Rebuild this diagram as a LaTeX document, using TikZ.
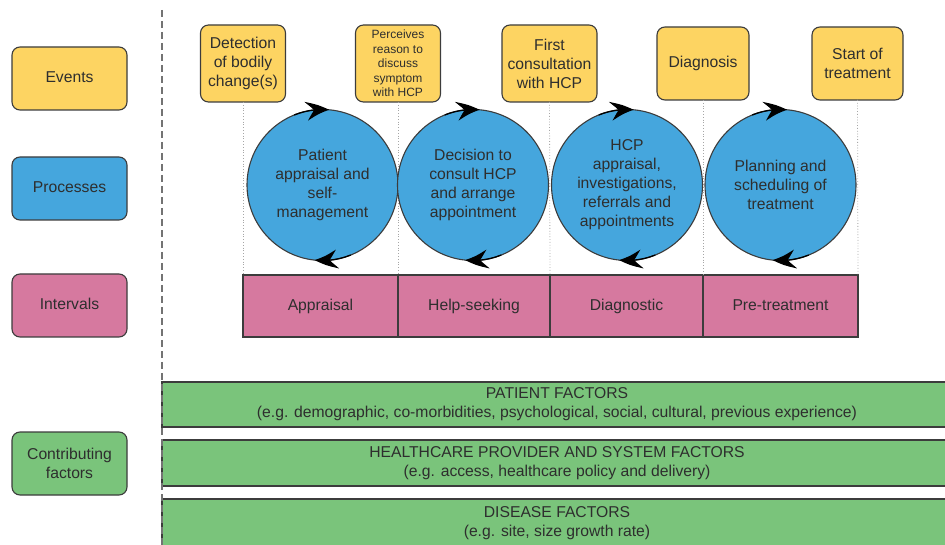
\documentclass[tikz,border=0pt]{standalone}
\usepackage{fontspec}
\setmainfont{Liberation Sans}
\usetikzlibrary{arrows.meta,bending}
\definecolor{evfill}{HTML}{FDD462}
\definecolor{prfill}{HTML}{45A6DD}
\definecolor{infill}{HTML}{D6799F}
\definecolor{cffill}{HTML}{7AC47B}
\definecolor{edge}{HTML}{3C3C3C}
\definecolor{ink}{HTML}{2E2E2E}
\begin{document}
\begin{tikzpicture}[x=1pt,y=1pt,
  base/.style={draw=edge, line width=1.1pt, text=ink, align=center, inner sep=0pt, outer sep=0pt,
    font=\fontsize{15.7}{19}\selectfont},
  oneline/.style={text height=11.5pt, text depth=3.3pt},
  legend/.style={base, rounded corners=8pt, minimum width=115pt, minimum height=63pt},
  event/.style={base, fill=evfill, rounded corners=8pt, minimum height=77pt},
  proc/.style={base, circle, fill=prfill, minimum size=151pt},
  interval/.style={base, oneline, fill=infill, minimum height=62pt},
  factor/.style={base, fill=cffill, minimum width=790pt, anchor=west},
  guide/.style={draw=gray!70, dotted, line width=0.8pt},
  divider/.style={draw=gray!90!black, dash pattern=on 7pt off 4pt, line width=1.5pt},
  cyc/.style={draw=black, line width=1.3pt, -{Stealth[length=23pt,width=19pt,inset=8pt,bend]}},
]
\useasboundingbox (0,0) rectangle (945,544);
\clip (0,0) rectangle (945,544);

% legend column
\node[legend, oneline, fill=evfill] (lgev) at (69.5,465.5) {Events};
\node[legend, oneline, fill=prfill] (lgpr) at (69.5,355.5) {Processes};
\node[legend, oneline, fill=infill] (lgin) at (69.5,238.5) {Intervals};
\node[legend, fill=cffill] (lgcf) at (69.5,80.5) {Contributing\\factors};

% events
\node[event, minimum width=85pt] (ev1) at (243,480.5) {Detection\\of bodily\\change(s)};
\node[event, minimum width=85pt, font=\fontsize{12}{14.4}\selectfont] (ev2) at (398,480.5)
  {Perceives\\reason to\\discuss\\symptom\\with HCP};
\node[event, minimum width=95pt] (ev3) at (549.5,480.5) {First\\consultation\\with HCP};
\node[event, oneline, minimum width=92pt, minimum height=73pt] (ev4) at (703,480.5) {Diagnosis};
\node[event, minimum width=91pt, minimum height=73pt] (ev5) at (857.5,480.5) {Start of\\treatment};

% intervals
\node[interval, minimum width=155pt] (in1) at (320.5,238) {Appraisal};
\node[interval, minimum width=152pt] (in2) at (474,238) {Help-seeking};
\node[interval, minimum width=153pt] (in3) at (626.5,238) {Diagnostic};
\node[interval, minimum width=155pt] (in4) at (780.5,238) {Pre-treatment};

% guides from each event down to the interval boundaries
\draw[guide] (ev1.south) -- (in1.north west);
\draw[guide] (ev2.south) -- (in1.north east);
\draw[guide] (ev3.south) -- (in3.north west);
\draw[guide] (ev4.south) -- (in4.north west);
\draw[guide] (ev5.south) -- (in4.north east);

% processes
\node[proc] (pr1) at (322.5,359) {Patient\\appraisal and\\self-\\management};
\node[proc] (pr2) at (473,359) {Decision to\\consult HCP\\and arrange\\appointment};
\node[proc] (pr3) at (627,359) {HCP\\appraisal,\\investigations,\\referrals and\\appointments};
\node[proc] (pr4) at (780.5,359) {Planning and\\scheduling of\\treatment};

% clockwise cycle arrows on each process
\foreach \p in {pr1,pr2,pr3,pr4}{
  \draw[cyc] (\p.112) arc[start angle=112, end angle=85, radius=75.5];
  \draw[cyc] (\p.292) arc[start angle=292, end angle=264, radius=75.5];
}

% contributing factors
\node[factor, minimum height=45pt] (cf1) at (162,139.5)
  {PATIENT FACTORS\\(e.g. demographic, co-morbidities, psychological, social, cultural, previous experience)};
\node[factor, minimum height=46pt] (cf2) at (162,81)
  {HEALTHCARE PROVIDER AND SYSTEM FACTORS\\(e.g. access, healthcare policy and delivery)};
\node[factor, minimum height=48pt] (cf3) at (162,21)
  {DISEASE FACTORS\\(e.g. site, size growth rate)};

% divider between legend and diagram
\coordinate (dtop) at (162,534);
\coordinate (dbot) at (162,-2);
\draw[divider] (dtop) -- (dbot);
\end{tikzpicture}
\end{document}
